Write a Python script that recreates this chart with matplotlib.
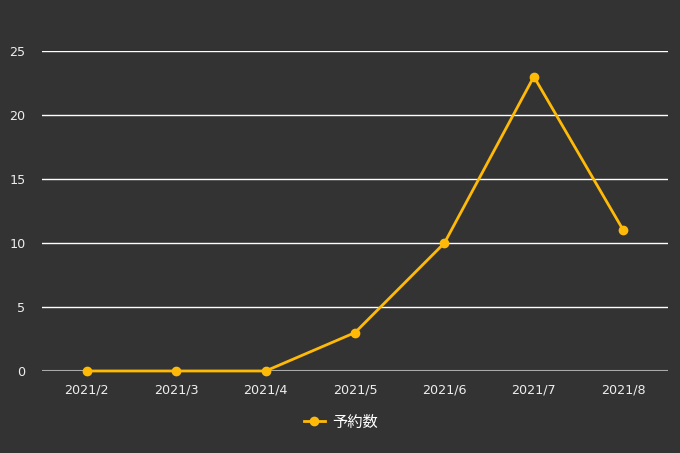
import matplotlib
matplotlib.use('Agg')
import matplotlib.pyplot as plt

months = ['2021/2', '2021/3', '2021/4', '2021/5', '2021/6', '2021/7', '2021/8']
bookings = [0, 0, 0, 3, 10, 23, 11]
yticks = [0, 5, 10, 15, 20, 25]

plt.rcParams['font.family'] = ['Noto Sans CJK JP', 'DejaVu Sans']

bg = '#333333'
line_color = '#FFBA08'

fig = plt.figure(figsize=(6.8, 4.53), dpi=100, facecolor=bg)
ax = fig.add_axes([42/680, 1 - 371/453, 626/680, 320/453], facecolor=bg)

x = list(range(len(months)))
ax.plot(x, bookings, color=line_color, linewidth=2, marker='o', markersize=6,
        label='予約数', clip_on=False, zorder=3)

ax.set_xlim(-0.5, len(months) - 0.5)
ax.set_ylim(0, 25)
ax.set_yticks(yticks)
ax.set_xticks(x)
ax.set_xticklabels(months)

# 横の目盛線
for v in yticks[1:]:
    ax.axhline(v, color='white', linewidth=1, zorder=1)
ax.axhline(0, color='#aaaaaa', linewidth=1.5, zorder=1)

for s in ax.spines.values():
    s.set_visible(False)
ax.tick_params(length=0, colors='#eeeeee', labelsize=9.2)
ax.tick_params(axis='x', pad=9)
ax.tick_params(axis='y', pad=12)
for lab in ax.get_xticklabels() + ax.get_yticklabels():
    lab.set_fontfamily('DejaVu Sans')

leg = fig.legend(loc='center', bbox_to_anchor=(341/680, 1 - 422/453), frameon=False,
                 fontsize=11, handlelength=1.4, handletextpad=0.5)
for t in leg.get_texts():
    t.set_color('white')

fig.savefig('out.png', dpi=100, facecolor=bg)
